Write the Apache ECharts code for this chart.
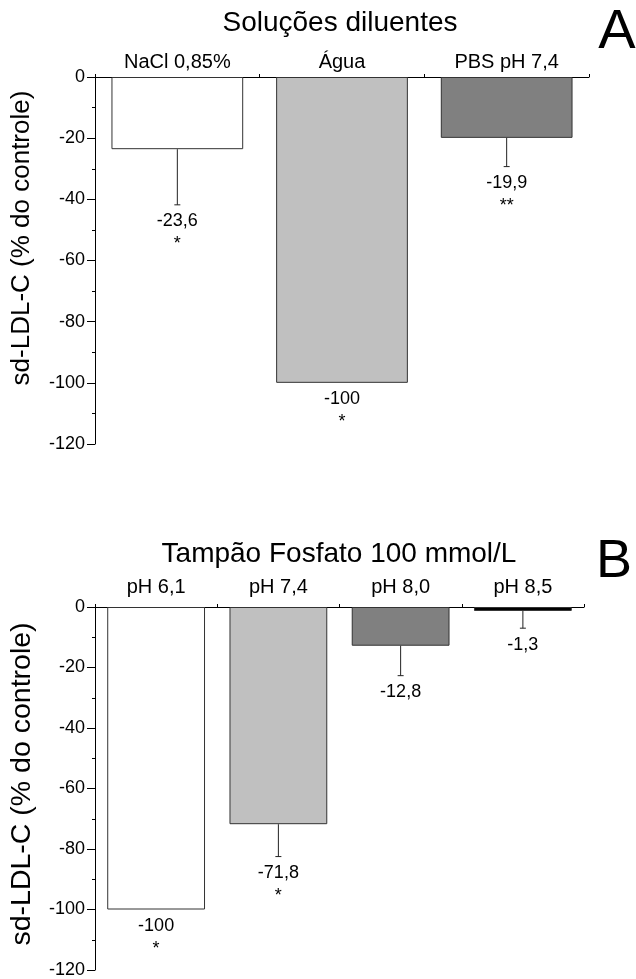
<!DOCTYPE html>
<html>
<head>
<meta charset="utf-8">
<script src="https://cdn.jsdelivr.net/npm/echarts@6/dist/echarts.min.js"></script>
<style>
  html, body { margin: 0; padding: 0; background: #fff; }
  #chart { width: 636px; height: 979px; }
</style>
</head>
<body>
<div id="chart"></div>
<script>
// Panel A: diluent solutions
const catsA = ['NaCl 0,85%', 'Água', 'PBS pH 7,4'];
const valsA = [-23.6, -100, -19.9];
const errA = [18.2, 0, 9.4];
const sigA = ['*', '*', '**'];

// Panel B: 100 mmol/L phosphate buffer at several pH values
const catsB = ['pH 6,1', 'pH 7,4', 'pH 8,0', 'pH 8,5'];
const valsB = [-100, -71.8, -12.8, -1.3];
const errB = [0, 10.7, 9.9, 5.7];
const sigB = ['*', '*', '', ''];

// y-axis range shared by both panels
const yMin = -120, yMax = 0, yStep = 20;
const yTitle = 'sd-LDL-C (% do controle)';

const fillsA = ['#ffffff', '#c0c0c0', '#808080'];
const fillsB = ['#ffffff', '#c0c0c0', '#808080', '#000000'];

const FONT = "'Liberation Sans', Arial, Helvetica, sans-serif";
const fmt = v => Number.isInteger(v) ? String(v) : v.toFixed(1).replace('.', ',');

function barData(vals, fills) {
  return vals.map((v, i) => ({
    value: v,
    itemStyle: { color: fills[i], borderColor: '#333', borderWidth: 1 }
  }));
}

// error bar (downward half only) plus value and significance labels
function makeRender(vals, errs, sigs) {
  return function (params, api) {
    const i = params.dataIndex;
    const v = vals[i], e = errs[i];
    const base = api.coord([i, v]);
    const end = api.coord([i, v - e]);
    const x = base[0];
    const children = [];
    if (e > 0) {
      children.push({ type: 'line', shape: { x1: x, y1: base[1], x2: x, y2: end[1] },
        style: { stroke: '#222', lineWidth: 1 } });
      children.push({ type: 'line', shape: { x1: x - 3, y1: end[1], x2: x + 3, y2: end[1] },
        style: { stroke: '#222', lineWidth: 1 } });
    }
    children.push({ type: 'text', style: { text: fmt(v), x: x, y: end[1] + 16.5,
      align: 'center', verticalAlign: 'middle', fontSize: 18, fontFamily: FONT, fill: '#000' } });
    if (sigs[i]) {
      children.push({ type: 'text', style: { text: sigs[i], x: x, y: end[1] + 39.5,
        align: 'center', verticalAlign: 'middle', fontSize: 18, fontFamily: FONT, fill: '#000' } });
    }
    return { type: 'group', children: children };
  };
}

function xAxisCfg(cats, idx, margin) {
  return {
    type: 'category', gridIndex: idx, data: cats, position: 'top',
    axisLine: { show: true, lineStyle: { color: '#000', width: 1 } },
    axisTick: { show: true, length: 3, lineStyle: { color: '#000' } },
    axisLabel: { color: '#000', fontSize: 20, fontFamily: FONT, margin: margin },
    splitLine: { show: false }
  };
}

function yAxisCfg(idx) {
  return {
    type: 'value', gridIndex: idx, min: yMin, max: yMax, interval: yStep,
    axisLine: { show: true, lineStyle: { color: '#000', width: 1 } },
    axisTick: { show: true, length: 8, lineStyle: { color: '#000' } },
    minorTick: { show: true, splitNumber: 2, length: 3, lineStyle: { color: '#000' } },
    axisLabel: { color: '#000', fontSize: 18, fontFamily: FONT, margin: 10 },
    splitLine: { show: false }
  };
}

function textItem(text, x, y, size, rotation) {
  return { type: 'text', x: x, y: y, rotation: rotation || 0,
    style: { text: text, align: 'center', verticalAlign: 'middle',
      fontSize: size, fontFamily: FONT, fill: '#000' } };
}

const chart = echarts.init(document.getElementById('chart'), null, { renderer: 'canvas' });
chart.setOption({
  animation: false,
  backgroundColor: '#fff',
  grid: [
    { left: 95, right: 47, top: 77, height: 367 },
    { left: 95, right: 52, top: 607, height: 366 }
  ],
  xAxis: [xAxisCfg(catsA, 0, 5), xAxisCfg(catsB, 1, 10)],
  yAxis: [yAxisCfg(0), yAxisCfg(1)],
  graphic: [
    textItem('Soluções diluentes', 340, 23, 28),
    textItem('A', 617, 33, 56),
    textItem(yTitle, 22, 238, 26, Math.PI / 2),
    textItem('Tampão Fosfato 100 mmol/L', 339, 554, 28),
    textItem('B', 614, 562, 54),
    textItem(yTitle, 22, 784, 28.5, Math.PI / 2)
  ],
  series: [
    { type: 'bar', xAxisIndex: 0, yAxisIndex: 0, barCategoryGap: '20%', data: barData(valsA, fillsA) },
    { type: 'bar', xAxisIndex: 1, yAxisIndex: 1, barCategoryGap: '20%', data: barData(valsB, fillsB) },
    { type: 'custom', xAxisIndex: 0, yAxisIndex: 0, z: 5,
      renderItem: makeRender(valsA, errA, sigA),
      data: valsA.map((v, i) => [i, v, errA[i]]), encode: { x: 0, y: 1 } },
    { type: 'custom', xAxisIndex: 1, yAxisIndex: 1, z: 5,
      renderItem: makeRender(valsB, errB, sigB),
      data: valsB.map((v, i) => [i, v, errB[i]]), encode: { x: 0, y: 1 } }
  ]
});
</script>
</body>
</html>
